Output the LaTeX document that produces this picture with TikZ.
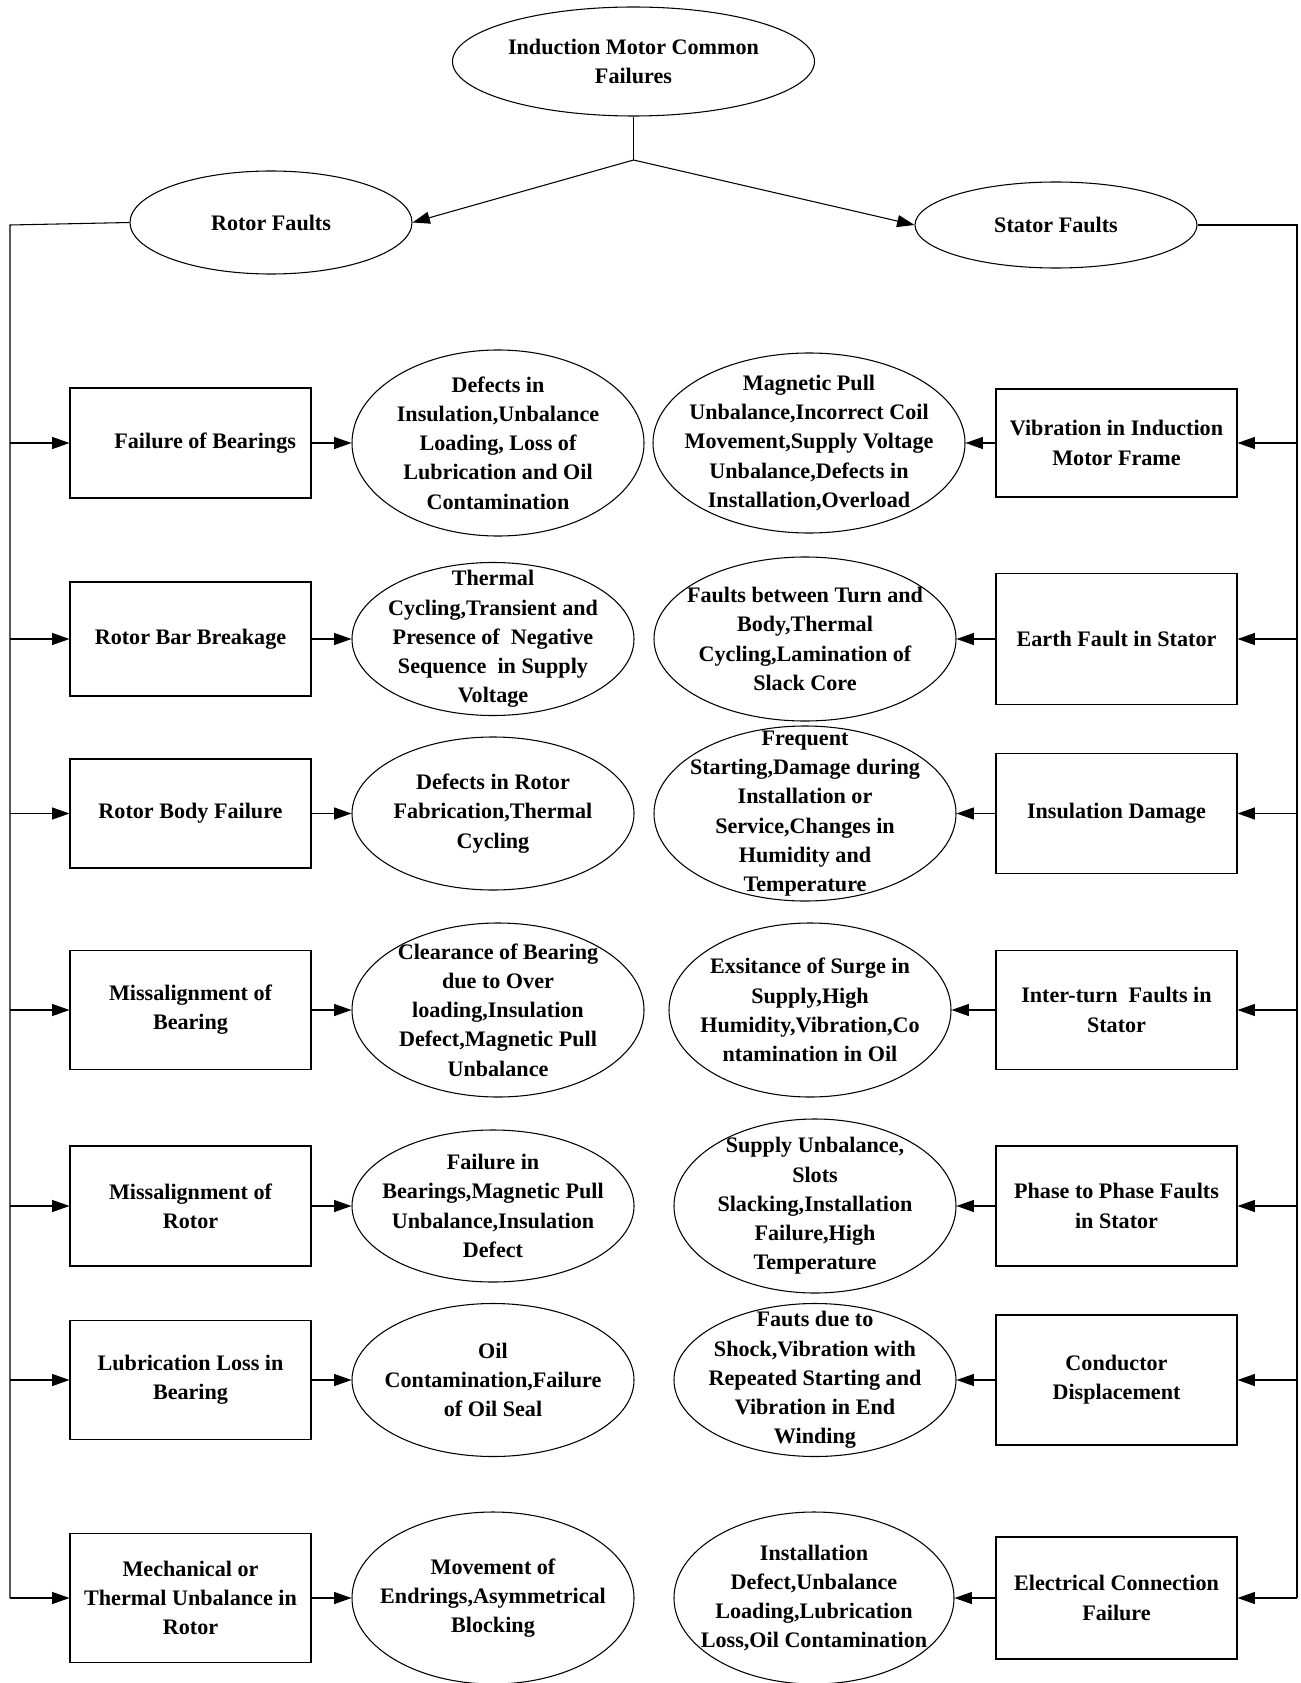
\documentclass[tikz,border=0pt]{standalone}
\usepackage{fontspec}
\setmainfont{Liberation Serif}
\usetikzlibrary{shapes.geometric,arrows.meta}
\newcommand\myfs{\fontsize{16.6}{21.9}\selectfont\bfseries}
\tikzset{
  ln/.style={line width=0.8pt},
  arr/.style={ln,-{Triangle[length=13pt,width=9pt]}},
  box/.style={draw,ln,rectangle,minimum width=180.75pt,inner sep=0pt,align=center,font=\myfs},
  ell/.style={draw,ln,ellipse,inner sep=0pt},
  txt/.style={align=center,font=\myfs,inner sep=0pt}
}
\begin{document}
\begin{tikzpicture}[x=0.75pt,y=-0.75pt]
\useasboundingbox (0,0) rectangle (1301,1683);
% top
\node[ell,minimum width=271.5pt,minimum height=81.75pt] (top) at (633.5,61.5) {};
\node[txt] (topt) at (top.center) {Induction Motor Common\\Failures};
\node[ell,minimum width=211.5pt,minimum height=77.25pt] (rotor) at (271,222.5) {};
\node[txt] (rotort) at (rotor.center) {Rotor Faults};
\node[ell,minimum width=211.5pt,minimum height=64.5pt] (stator) at (1056,225) {};
\node[txt] (statort) at (stator.center) {Stator Faults};
\coordinate (br) at (633.5,160);
\draw[ln] (top.south) -- (br);
\draw[arr] (br) -- (rotor.east);
\draw[arr] (br) -- (stator.west);
% buses
\coordinate (lbt) at (10,225);
\coordinate (lbb) at (10,1598);
\coordinate (rbt) at (1297,225);
\coordinate (rbb) at (1297,1598);
\draw[ln] (rotor.west) -- (lbt) -- (lbb);
\draw[ln] (stator.east) -- (rbt) -- (rbb);
% left boxes
\node[box,minimum height=82.5pt] (LB1) at (190.5,443) {};
\node[txt] (LB1t) at ([xshift=11pt]LB1.center) {Failure of Bearings};
\node[box,minimum height=85.5pt] (LB2) at (190.5,639) {Rotor Bar Breakage};
\node[box,minimum height=81.75pt] (LB3) at (190.5,813.5) {Rotor Body Failure};
\node[box,minimum height=89.25pt] (LB4) at (190.5,1010) {Missalignment of\\Bearing};
\node[box,minimum height=90pt] (LB5) at (190.5,1206) {Missalignment of\\Rotor};
\node[box,minimum height=89.25pt] (LB6) at (190.5,1380) {Lubrication Loss in\\Bearing};
\node[box,minimum height=96.75pt] (LB7) at (190.5,1598) {Mechanical or\\Thermal Unbalance in\\Rotor};
% right boxes
\node[box,minimum height=81pt] (RB1) at (1116.5,443) {Vibration in Induction\\Motor Frame};
\node[box,minimum height=98.25pt] (RB2) at (1116.5,639) {Earth Fault in Stator};
\node[box,minimum height=90pt] (RB3) at (1116.5,813.5) {Insulation Damage};
\node[box,minimum height=89.25pt] (RB4) at (1116.5,1010) {Inter-turn\ \ Faults in\\Stator};
\node[box,minimum height=90pt] (RB5) at (1116.5,1206) {Phase to Phase Faults\\in Stator};
\node[box,minimum height=97.5pt] (RB6) at (1116.5,1380) {Conductor\\Displacement};
\node[box,minimum height=91.5pt] (RB7) at (1116.5,1598) {Electrical Connection\\Failure};
% left ellipses
\node[ell,minimum width=219pt,minimum height=139.5pt] (L1) at (498,443) {};
\node[txt] (L1t) at (L1.center) {Defects in\\Insulation,Unbalance\\Loading, Loss of\\Lubrication and Oil\\Contamination};
\node[ell,minimum width=211.5pt,minimum height=114.75pt] (L2) at (493,639) {};
\node[txt] (L2t) at (L2.center) {Thermal\\Cycling,Transient and\\Presence of\ \ Negative\\Sequence\ \ in Supply\\Voltage};
\node[ell,minimum width=211.5pt,minimum height=114.75pt] (L3) at (493,813.5) {};
\node[txt] (L3t) at (L3.center) {Defects in Rotor\\Fabrication,Thermal\\Cycling};
\node[ell,minimum width=219pt,minimum height=130.5pt] (L4) at (498,1010) {};
\node[txt] (L4t) at (L4.center) {Clearance of Bearing\\due to Over\\loading,Insulation\\Defect,Magnetic Pull\\Unbalance};
\node[ell,minimum width=211.5pt,minimum height=114pt] (L5) at (493,1206) {};
\node[txt] (L5t) at (L5.center) {Failure in\\Bearings,Magnetic Pull\\Unbalance,Insulation\\Defect};
\node[ell,minimum width=211.5pt,minimum height=114.75pt] (L6) at (493,1380) {};
\node[txt] (L6t) at (L6.center) {Oil\\Contamination,Failure\\of Oil Seal};
\node[ell,minimum width=211.5pt,minimum height=129pt] (L7) at (493,1598) {};
\node[txt] (L7t) at (L7.center) {Movement of\\Endrings,Asymmetrical\\Blocking};
% right ellipses
\node[ell,minimum width=234pt,minimum height=135pt] (R1) at (809,443) {};
\node[txt] (R1t) at (R1.center) {Magnetic Pull\\Unbalance,Incorrect Coil\\Movement,Supply Voltage\\Unbalance,Defects in\\Installation,Overload};
\node[ell,minimum width=226.5pt,minimum height=123pt] (R2) at (805,639) {};
\node[txt] (R2t) at (R2.center) {Faults between Turn and\\Body,Thermal\\Cycling,Lamination of\\Slack Core};
\node[ell,minimum width=226.5pt,minimum height=131.25pt] (R3) at (805,813.5) {};
\node[txt] (R3t) at (R3.center) {Frequent\\Starting,Damage during\\Installation or\\Service,Changes in\\Humidity and\\Temperature};
\node[ell,minimum width=211.5pt,minimum height=130.5pt] (R4) at (810,1010) {};
\node[txt] (R4t) at (R4.center) {Exsitance of Surge in\\Supply,High\\Humidity,Vibration,Co\\ntamination in Oil};
\node[ell,minimum width=211.5pt,minimum height=130.5pt] (R5) at (815,1206) {};
\node[txt] (R5t) at (R5.center) {Supply Unbalance,\\Slots\\Slacking,Installation\\Failure,High\\Temperature};
\node[ell,minimum width=211.5pt,minimum height=114.75pt] (R6) at (815,1380) {};
\node[txt] (R6t) at (R6.center) {Fauts due to\\Shock,Vibration with\\Repeated Starting and\\Vibration in End\\Winding};
\node[ell,minimum width=210pt,minimum height=129pt] (R7) at (814,1598) {};
\node[txt] (R7t) at (R7.center) {Installation\\Defect,Unbalance\\Loading,Lubrication\\Loss,Oil Contamination};
% taps and arrows
\foreach \i/\y in {1/443,2/639,3/813.5,4/1010,5/1206,6/1380,7/1598}{
  \coordinate (lt\i) at (10,\y);
  \coordinate (rt\i) at (1297,\y);
  \draw[arr] (lt\i) -- (LB\i.west);
  \draw[arr] (LB\i.east) -- (L\i.west);
  \draw[arr] (rt\i) -- (RB\i.east);
  \draw[arr] (RB\i.west) -- (R\i.east);
}
\end{tikzpicture}
\end{document}
